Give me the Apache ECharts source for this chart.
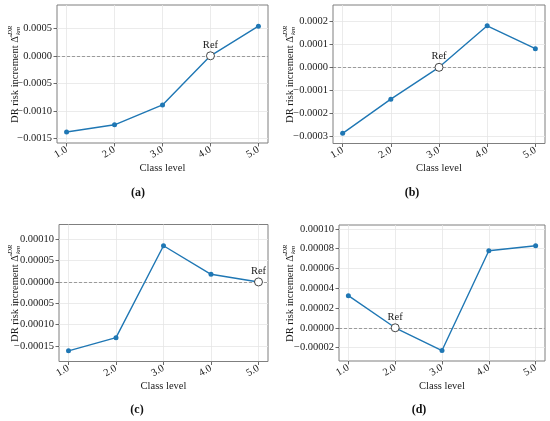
<!DOCTYPE html>
<html>
<head>
<meta charset="utf-8">
<script src="https://cdn.jsdelivr.net/npm/echarts@6/dist/echarts.min.js"></script>
<style>
  html, body { margin: 0; padding: 0; background: #fff; }
  #main { width: 550px; height: 421px; }
</style>
</head>
<body>
<div id="main"></div>
<script>
// class levels on the x axis
var classLevels = [1, 2, 3, 4, 5];
var xTicks = [1, 2, 3, 4, 5];

// DR risk increment per panel
var riskA = [-0.00138, -0.00125, -0.00089, 0, 0.000536];
var riskB = [-0.000286, -0.000138, 0, 0.00018, 0.000081];
var riskC = [-0.000162, -0.000131, 0.000085, 0.000018, 0];
var riskD = [0.0000325, 0, -0.000023, 0.0000779, 0.000083];

// which class is the reference in each panel
var refLevel = [4, 3, 5, 2];

// y tick labels
var ticksA = [-0.0015, -0.001, -0.0005, 0, 0.0005];
var ticksB = [-0.0003, -0.0002, -0.0001, 0, 0.0001, 0.0002];
var ticksC = [-0.00015, -0.0001, -0.00005, 0, 0.00005, 0.0001];
var ticksD = [-0.00002, 0, 0.00002, 0.00004, 0.00006, 0.00008, 0.0001];
var tickDecimals = [4, 4, 5, 5];

// y limits
var yLimA = [-0.00158, 0.00092];
var yLimB = [-0.00033, 0.00027];
var yLimC = [-0.000187, 0.000135];
var yLimD = [-0.0000336, 0.000104];

var panelNames = ['(a)', '(b)', '(c)', '(d)'];

var serif = '"Liberation Serif", "Times New Roman", serif';
var blue = '#1f77b4';
var ink = '#1a1a1a';

var chart = echarts.init(document.getElementById('main'), null, { renderer: 'canvas' });

var series = [riskA, riskB, riskC, riskD];
var ticks = [ticksA, ticksB, ticksC, ticksD];
var yLims = [yLimA, yLimB, yLimC, yLimD];

// plot frames in pixels
var frames = [
    { left: 57, top: 5, width: 211, height: 138 },
    { left: 333, top: 5, width: 212, height: 138.5 },
    { left: 59, top: 224.5, width: 209, height: 137 },
    { left: 339, top: 225, width: 206, height: 136 }
];
var yLabelPos = [[15, 74], [290, 74], [15, 293], [290, 293]];
var panelLabelPos = [[138, 193], [412, 193], [137, 410], [419, 410]];

function fmt(d) {
    return function (v) {
        return Number(v).toFixed(d).replace('-', '\u2212');
    };
}

var grid = [], xAxis = [], yAxis = [], ser = [], graphic = [];

frames.forEach(function (f, i) {
    grid.push({
        left: f.left, top: f.top, width: f.width, height: f.height,
        show: true, borderColor: '#7f7f7f', borderWidth: 1, backgroundColor: 'transparent'
    });
    xAxis.push({
        type: 'value', gridIndex: i, min: 0.8, max: 5.2,
        name: 'Class level', nameLocation: 'middle', nameGap: 18,
        nameTextStyle: { fontFamily: serif, fontSize: 10.5, color: ink },
        axisLine: { show: false, onZero: false },
        axisTick: { show: true, length: 3.5, lineStyle: { color: '#444', width: 0.8 }, customValues: xTicks },
        axisLabel: {
            customValues: xTicks, rotate: 30, margin: 6,
            fontFamily: serif, fontSize: 10.5, color: ink,
            formatter: function (v) { return Number(v).toFixed(1); }
        },
        splitLine: { show: true, lineStyle: { color: '#e6e6e6', width: 0.8 } }
    });
    yAxis.push({
        type: 'value', gridIndex: i, min: yLims[i][0], max: yLims[i][1],
        axisLine: { show: false, onZero: false },
        axisTick: { show: true, length: 3.5, lineStyle: { color: '#444', width: 0.8 }, customValues: ticks[i] },
        axisLabel: {
            customValues: ticks[i], margin: 5,
            fontFamily: serif, fontSize: 10.5, color: ink,
            formatter: fmt(tickDecimals[i])
        },
        splitLine: { show: true, lineStyle: { color: '#e6e6e6', width: 0.8 } }
    });

    var pts = classLevels.map(function (c, k) { return [c, series[i][k]]; });
    ser.push({
        type: 'line', xAxisIndex: i, yAxisIndex: i,
        data: pts, symbol: 'circle', symbolSize: 5,
        lineStyle: { color: blue, width: 1.4 },
        itemStyle: { color: blue },
        z: 3, animation: false,
        markLine: {
            silent: true, symbol: 'none', label: { show: false },
            lineStyle: { color: '#888', type: [3, 2], width: 0.8 },
            data: [{ yAxis: 0 }], z: 2
        }
    });
    var refIdx = classLevels.indexOf(refLevel[i]);
    ser.push({
        type: 'scatter', xAxisIndex: i, yAxisIndex: i,
        data: [[refLevel[i], series[i][refIdx]]],
        symbol: 'circle', symbolSize: 8,
        itemStyle: { color: '#fff', opacity: 1, borderColor: '#333', borderWidth: 0.9 },
        label: {
            show: true, position: 'top', distance: 1, formatter: 'Ref',
            fontFamily: serif, fontSize: 10.5, color: ink
        },
        z: 5, animation: false
    });

    // y axis title with stacked super/subscript
    graphic.push({
        type: 'group', x: yLabelPos[i][0], y: yLabelPos[i][1], rotation: Math.PI / 2,
        children: [
            { type: 'text', x: 38, y: 0, style: { text: 'DR risk increment \u0394\u0302', align: 'right', verticalAlign: 'middle', font: '10.5px ' + serif, fill: ink } },
            { type: 'text', x: 39, y: -4.5, style: { text: 'DR', align: 'left', verticalAlign: 'middle', font: 'italic 7px ' + serif, fill: ink } },
            { type: 'text', x: 39, y: 3.5, style: { text: 'km', align: 'left', verticalAlign: 'middle', font: 'italic 7px ' + serif, fill: ink } }
        ]
    });
    graphic.push({
        type: 'text', x: panelLabelPos[i][0], y: panelLabelPos[i][1],
        style: { text: panelNames[i], align: 'center', verticalAlign: 'middle', font: 'bold 12px ' + serif, fill: '#111' }
    });
});

chart.setOption({
    animation: false,
    grid: grid,
    xAxis: xAxis,
    yAxis: yAxis,
    series: ser,
    graphic: graphic
});
window.onresize = chart.resize;
</script>
</body>
</html>
